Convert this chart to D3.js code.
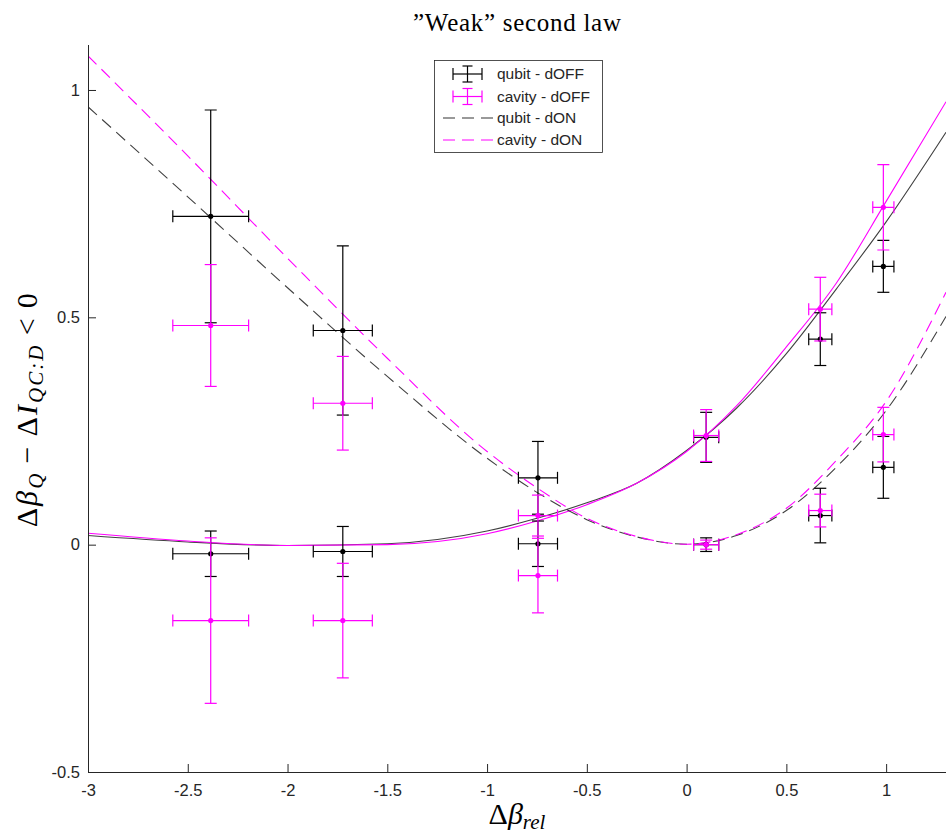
<!DOCTYPE html>
<html>
<head>
<meta charset="utf-8">
<script src="https://cdn.jsdelivr.net/npm/d3@7"></script>
<style>
  body { margin: 0; background: #fff; }
  svg { display: block; }
</style>
</head>
<body>
<div id="chart"></div>
<script>
// measured points (same x for qubit and cavity)
const xPts = [-2.385, -1.723, -0.745, 0.098, 0.670, 0.986];
const xErr = [0.19, 0.148, 0.098, 0.063, 0.058, 0.053];

const qubitOffY   = [-0.020, -0.015, 0.002, 0.236, 0.452, 0.612];
const qubitOffErr = [0.050, 0.055, 0.050, 0.055, 0.058, 0.057];
const cavityOffY   = [-0.167, -0.167, -0.068, 0.240, 0.518, 0.742];
const cavityOffErr = [0.182, 0.126, 0.082, 0.057, 0.070, 0.094];
const qubitOnY   = [0.722, 0.471, 0.147, 0.000, 0.064, 0.170];
const qubitOnErr = [0.234, 0.186, 0.080, 0.015, 0.060, 0.068];
const cavityOnY   = [0.482, 0.311, 0.064, 0.000, 0.075, 0.242];
const cavityOnErr = [0.134, 0.103, 0.045, 0.010, 0.036, 0.060];

// fitted curves
const fitX = [-3, -2.5, -2, -1.5, -1, -0.75, -0.5, -0.25, 0, 0.25, 0.5, 0.75, 1, 1.3];
const qubitOffFit  = [0.020, 0.006, -0.002, 0.002, 0.030, 0.058, 0.092, 0.135, 0.207, 0.300, 0.420, 0.562, 0.710, 0.907];
const cavityOffFit = [0.025, 0.008, -0.002, 0.000, 0.024, 0.052, 0.088, 0.135, 0.205, 0.305, 0.435, 0.575, 0.755, 0.974];
const qubitOnFit   = [0.963, 0.765, 0.565, 0.370, 0.190, 0.115, 0.055, 0.017, 0.001, 0.020, 0.075, 0.170, 0.295, 0.502];
const cavityOnFit  = [1.075, 0.855, 0.630, 0.410, 0.205, 0.125, 0.058, 0.018, 0.001, 0.022, 0.080, 0.185, 0.315, 0.555];

const xTicks = [-3, -2.5, -2, -1.5, -1, -0.5, 0, 0.5, 1];
const yTicks = [-0.5, 0, 0.5, 1];
const legendLabels = ["qubit - dOFF", "cavity - dOFF", "qubit - dON", "cavity - dON"];

const BLACK = "#000000", MAGENTA = "#ff00ff", AXIS = "#262626";

// set the dimensions and margins of the graph
const margin = {top: 44.5, right: 0, bottom: 66, left: 88},
    width = 946 - margin.left - margin.right,
    height = 838 - margin.top - margin.bottom;

const svg = d3.select("#chart")
  .append("svg")
    .attr("width", 946)
    .attr("height", 838)
    .style("font-family", "'Liberation Sans', Arial, sans-serif");

const g = svg.append("g")
    .attr("transform", `translate(${margin.left},${margin.top})`);

const x = d3.scaleLinear().domain([-3, 1.3]).range([0, width]);
const y = d3.scaleLinear().domain([-0.5, 1.1]).range([height, 0]);

g.append("clipPath").attr("id", "clip")
  .append("rect").attr("width", width).attr("height", height);

const plot = g.append("g").attr("clip-path", "url(#clip)");

// curves
const line = d3.line()
  .x(d => x(d[0]))
  .y(d => y(d[1]))
  .curve(d3.curveMonotoneX);

const curves = [
  {vals: qubitOffFit, color: BLACK, dash: null},
  {vals: cavityOffFit, color: MAGENTA, dash: null},
  {vals: qubitOnFit, color: BLACK, dash: "12,7"},
  {vals: cavityOnFit, color: MAGENTA, dash: "12,7"}
];
curves.forEach(c => {
  plot.append("path")
    .datum(fitX.map((v, i) => [v, c.vals[i]]))
    .attr("d", line)
    .attr("fill", "none")
    .attr("stroke", c.color)
    .attr("stroke-width", 1.1)
    .attr("stroke-opacity", c.color === BLACK ? 0.75 : 1)
    .attr("stroke-dasharray", c.dash);
});

// error bars
const cap = 6;
function errorBars(ys, errs, color) {
  const data = xPts.map((v, i) => ({x: v, xe: xErr[i], y: ys[i], ye: errs[i]}));
  const grp = plot.append("g").attr("stroke", color).attr("stroke-width", 1.2);
  const eb = grp.selectAll("g").data(data).join("g");
  eb.append("line")
    .attr("x1", d => x(d.x)).attr("x2", d => x(d.x))
    .attr("y1", d => y(d.y - d.ye)).attr("y2", d => y(d.y + d.ye));
  eb.append("line")
    .attr("x1", d => x(d.x) - cap).attr("x2", d => x(d.x) + cap)
    .attr("y1", d => y(d.y + d.ye)).attr("y2", d => y(d.y + d.ye));
  eb.append("line")
    .attr("x1", d => x(d.x) - cap).attr("x2", d => x(d.x) + cap)
    .attr("y1", d => y(d.y - d.ye)).attr("y2", d => y(d.y - d.ye));
  eb.append("line")
    .attr("x1", d => x(d.x - d.xe)).attr("x2", d => x(d.x + d.xe))
    .attr("y1", d => y(d.y)).attr("y2", d => y(d.y));
  eb.append("line")
    .attr("x1", d => x(d.x - d.xe)).attr("x2", d => x(d.x - d.xe))
    .attr("y1", d => y(d.y) - cap).attr("y2", d => y(d.y) + cap);
  eb.append("line")
    .attr("x1", d => x(d.x + d.xe)).attr("x2", d => x(d.x + d.xe))
    .attr("y1", d => y(d.y) - cap).attr("y2", d => y(d.y) + cap);
  eb.append("circle")
    .attr("cx", d => x(d.x)).attr("cy", d => y(d.y))
    .attr("r", 2.6).attr("fill", color).attr("stroke", "none");
}
errorBars(qubitOffY, qubitOffErr, BLACK);
errorBars(qubitOnY, qubitOnErr, BLACK);
errorBars(cavityOffY, cavityOffErr, MAGENTA);
errorBars(cavityOnY, cavityOnErr, MAGENTA);

// axes (ticks pointing inward, no box)
const xAxis = g.append("g")
  .attr("transform", `translate(0,${height})`)
  .call(d3.axisBottom(x).tickValues(xTicks).tickSizeInner(-8).tickSizeOuter(0)
    .tickFormat(d => String(d)));
xAxis.selectAll("text").attr("y", 8).attr("dy", "0.95em");

const yAxis = g.append("g")
  .call(d3.axisLeft(y).tickValues(yTicks).tickSizeInner(-8).tickSizeOuter(0)
    .tickFormat(d => String(d)));
yAxis.selectAll("text").attr("x", -8);

[xAxis, yAxis].forEach(a => {
  a.select(".domain").attr("stroke", AXIS).attr("stroke-width", 1);
  a.selectAll(".tick line").attr("stroke", AXIS);
  a.selectAll("text").attr("fill", AXIS)
    .style("font-family", "'Liberation Sans', Arial, sans-serif")
    .style("font-size", "16.5px");
});

// title
svg.append("text")
  .attr("x", margin.left + width / 2)
  .attr("y", 31)
  .attr("text-anchor", "middle")
  .attr("textLength", 208)
  .attr("lengthAdjust", "spacing")
  .style("font-family", "'Liberation Serif', 'Times New Roman', serif")
  .style("font-size", "25px")
  .attr("fill", "#000")
  .text("\u201DWeak\u201D second law");

// x label: Δβ_rel
const xl = svg.append("text")
  .attr("x", margin.left + width / 2)
  .attr("y", 824)
  .attr("text-anchor", "middle")
  .style("font-family", "'Liberation Serif', 'Times New Roman', serif")
  .style("font-size", "30px")
  .attr("fill", "#000");
xl.append("tspan").text("\u0394");
xl.append("tspan").style("font-style", "italic").text("\u03B2");
xl.append("tspan").style("font-style", "italic").style("font-size", "21px")
  .attr("dy", 5).text("rel");

// y label: Δβ_Q − ΔI_{QC:D} < 0
const yl = svg.append("text")
  .attr("transform", `translate(37,${margin.top + height / 2 + 2}) rotate(-90)`)
  .attr("text-anchor", "middle")
  .attr("textLength", 234)
  .attr("lengthAdjust", "spacing")
  .style("font-family", "'Liberation Serif', 'Times New Roman', serif")
  .style("font-size", "30px")
  .attr("fill", "#000");
yl.append("tspan").text("\u0394");
yl.append("tspan").style("font-style", "italic").text("\u03B2");
yl.append("tspan").style("font-style", "italic").style("font-size", "21px").attr("dy", 6).text("Q");
yl.append("tspan").attr("dy", -6).text("\u2009\u2212\u2009\u0394");
yl.append("tspan").style("font-style", "italic").text("I");
yl.append("tspan").style("font-style", "italic").style("font-size", "21px").attr("dy", 6).text("QC:D");
yl.append("tspan").attr("dy", -6).text("\u2009<\u20090");

// legend
const lg = svg.append("g");
lg.append("rect")
  .attr("x", 434.5).attr("y", 60.5).attr("width", 168).attr("height", 92)
  .attr("fill", "#fff").attr("stroke", AXIS).attr("stroke-width", 0.8);

const rowY = [74, 96.5, 118, 140];
const legendItems = [
  {color: BLACK, type: "err"},
  {color: MAGENTA, type: "err"},
  {color: BLACK, type: "dash"},
  {color: MAGENTA, type: "dash"}
];
legendItems.forEach((it, i) => {
  const ry = rowY[i];
  const row = lg.append("g").attr("stroke", it.color).attr("stroke-width", 1.2);
  if (it.type === "err") {
    const cx = 467.5;
    row.append("line").attr("x1", 453).attr("x2", 482).attr("y1", ry).attr("y2", ry);
    row.append("line").attr("x1", 453).attr("x2", 453).attr("y1", ry - 6).attr("y2", ry + 6);
    row.append("line").attr("x1", 482).attr("x2", 482).attr("y1", ry - 6).attr("y2", ry + 6);
    row.append("line").attr("x1", cx).attr("x2", cx).attr("y1", ry - 8).attr("y2", ry + 8);
    row.append("line").attr("x1", cx - 5).attr("x2", cx + 5).attr("y1", ry - 8).attr("y2", ry - 8);
    row.append("line").attr("x1", cx - 5).attr("x2", cx + 5).attr("y1", ry + 8).attr("y2", ry + 8);
  } else {
    row.append("line").attr("x1", 443).attr("x2", 494).attr("y1", ry).attr("y2", ry)
      .attr("stroke-dasharray", "12,7").attr("stroke-width", 1)
      .attr("stroke-opacity", it.color === BLACK ? 0.8 : 1);
  }
  lg.append("text")
    .attr("x", 497).attr("y", ry).attr("dy", "0.35em")
    .style("font-size", "15.5px")
    .attr("fill", AXIS)
    .text(legendLabels[i]);
});
</script>
</body>
</html>
